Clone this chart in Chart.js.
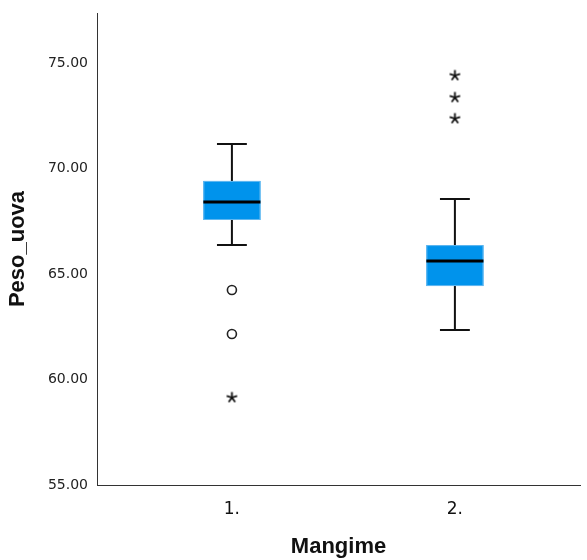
<!DOCTYPE html>
<html>
<head>
<meta charset="utf-8">
<script src="https://cdn.jsdelivr.net/npm/chart.js@4"></script>
<style>
  html, body { margin: 0; padding: 0; background: #fff; overflow: hidden; }
  canvas { display: block; }
</style>
</head>
<body>
<canvas id="c" width="587" height="560"></canvas>
<script>
// categories (x positions 1, 2)
const groups = [1, 2];
const groupLabels = ['1.', '2.'];

// box stats per group
const whiskerLow = [66.37, 62.35];
const q1 = [67.56, 64.43];
const median = [68.41, 65.62];
const q3 = [69.41, 66.37];
const whiskerHigh = [71.16, 68.55];

// outliers (circles) and extremes (stars)
const outlierX = [1, 1];
const outlierY = [64.24, 62.16];
const extremeX = [1, 2, 2, 2];
const extremeY = [59.17, 72.39, 73.39, 74.43];

const yTicks = [55, 60, 65, 70, 75];

// small 5-armed asterisk used for extreme values
function makeStar() {
  const s = document.createElement('canvas');
  s.width = 13; s.height = 13;
  const c = s.getContext('2d');
  c.strokeStyle = '#111';
  c.lineWidth = 1.8;
  c.beginPath();
  for (let i = 0; i < 5; i++) {
    const a = -Math.PI / 2 + i * 2 * Math.PI / 5;
    c.moveTo(6.5, 7);
    c.lineTo(6.5 + 5.5 * Math.cos(a), 7 + 5.5 * Math.sin(a));
  }
  c.stroke();
  return s;
}

const boxPlugin = {
  id: 'boxes',
  beforeDatasetsDraw(chart) {
    const ctx = chart.ctx;
    const xs = chart.scales.x;
    const ys = chart.scales.y;
    ctx.save();
    groups.forEach((g, i) => {
      const xc = xs.getPixelForValue(g);
      const xl = xs.getPixelForValue(g - 0.128);
      const xr = xs.getPixelForValue(g + 0.128);
      const cl = xs.getPixelForValue(g - 0.067);
      const cr = xs.getPixelForValue(g + 0.067);
      const yLo = ys.getPixelForValue(whiskerLow[i]);
      const yHi = ys.getPixelForValue(whiskerHigh[i]);
      const y1 = ys.getPixelForValue(q1[i]);
      const y3 = ys.getPixelForValue(q3[i]);
      const ym = ys.getPixelForValue(median[i]);

      // whiskers
      ctx.strokeStyle = '#111';
      ctx.lineWidth = 2;
      ctx.beginPath();
      ctx.moveTo(xc, yHi); ctx.lineTo(xc, y3);
      ctx.moveTo(xc, y1); ctx.lineTo(xc, yLo);
      ctx.moveTo(cl, yHi); ctx.lineTo(cr, yHi);
      ctx.moveTo(cl, yLo); ctx.lineTo(cr, yLo);
      ctx.stroke();

      // box
      ctx.fillStyle = '#0093ec';
      ctx.fillRect(xl, y3, xr - xl, y1 - y3);
      ctx.strokeStyle = '#62b8f0';
      ctx.lineWidth = 1;
      ctx.strokeRect(xl + 0.5, y3 + 0.5, xr - xl - 1, y1 - y3 - 1);

      // median
      ctx.strokeStyle = '#000';
      ctx.lineWidth = 3;
      ctx.beginPath();
      ctx.moveTo(xl, ym); ctx.lineTo(xr, ym);
      ctx.stroke();
    });
    ctx.restore();
  }
};

new Chart(document.getElementById('c'), {
  type: 'scatter',
  data: {
    datasets: [
      {
        data: outlierX.map((x, i) => ({ x: x, y: outlierY[i] })),
        pointStyle: 'circle',
        pointRadius: 4.5,
        borderColor: '#222',
        borderWidth: 1.6,
        backgroundColor: 'rgba(0,0,0,0)'
      },
      {
        data: extremeX.map((x, i) => ({ x: x, y: extremeY[i] })),
        pointStyle: makeStar(),
        pointRadius: 6
      }
    ]
  },
  options: {
    responsive: false,
    animation: false,
    layout: { padding: { top: 13, right: 0, left: 0, bottom: 0 } },
    plugins: { legend: { display: false }, tooltip: { enabled: false } },
    scales: {
      x: {
        type: 'linear',
        min: 0.395,
        max: 2.561,
        afterBuildTicks: (axis) => { axis.ticks = groups.map(v => ({ value: v })); },
        afterFit: (axis) => {
          axis.height = 75;
          axis.paddingLeft = 0;
          axis.paddingRight = 0;
        },
        grid: { display: false, drawTicks: false },
        border: { display: true, color: '#333', width: 1 },
        ticks: {
          padding: 14,
          color: '#111',
          font: { family: 'DejaVu Sans', size: 17 },
          callback: (v) => groupLabels[groups.indexOf(v)]
        },
        title: {
          display: true,
          text: 'Mangime',
          color: '#111',
          font: { family: 'Liberation Sans', size: 22, weight: 'bold' },
          padding: { top: 4, bottom: 0 }
        }
      },
      y: {
        min: 55,
        max: 77.37,
        afterBuildTicks: (axis) => { axis.ticks = yTicks.map(v => ({ value: v })); },
        afterFit: (axis) => {
          axis.width = 97;
          axis.paddingTop = 0;
          axis.paddingBottom = 0;
        },
        grid: { display: false, drawTicks: false },
        border: { display: true, color: '#333', width: 1 },
        ticks: {
          padding: 9,
          color: '#222',
          font: { family: 'DejaVu Sans', size: 14 },
          callback: (v) => v.toFixed(2)
        },
        title: {
          display: true,
          text: 'Peso_uova',
          color: '#111',
          font: { family: 'Liberation Sans', size: 22, weight: 'bold' },
          padding: { top: 5, bottom: 4 }
        }
      }
    }
  },
  plugins: [boxPlugin]
});
</script>
</body>
</html>
